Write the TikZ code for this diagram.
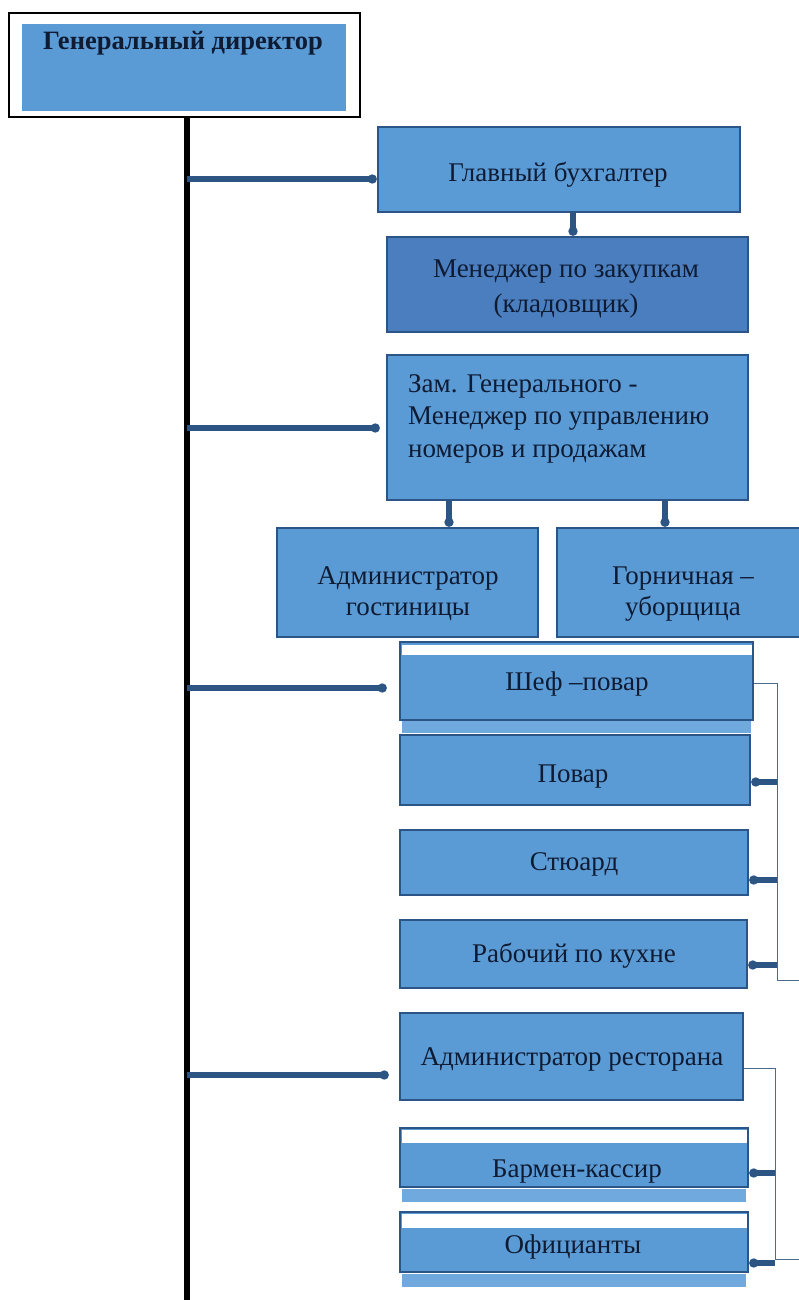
\documentclass[tikz,border=0pt]{standalone}
\usepackage{fontspec}
\setmainfont{Liberation Serif}
\usetikzlibrary{arrows.meta}
\definecolor{fillc}{HTML}{5B9BD5}
\definecolor{filld}{HTML}{4A7EBE}
\definecolor{lightc}{HTML}{6FA9DD}
\definecolor{bordc}{HTML}{2A5586}
\definecolor{connc}{HTML}{2D5584}
\definecolor{txtc}{HTML}{0E1B33}
\definecolor{thinc}{HTML}{4D6B88}
\begin{document}
\begin{tikzpicture}[x=1pt,y=-1pt,
  box/.style={draw=bordc,line width=2.5pt,fill=fillc,inner sep=0pt},
  lbl/.style={text=txtc,font=\fontsize{27}{32}\selectfont,align=center,inner sep=0pt,anchor=base},
  conn/.style={draw=connc,line width=6pt,-{Circle[length=9pt]}},
  thinln/.style={draw=thinc,line width=1pt}]
\clip (0,0) rectangle (799,1300);
\fill[white] (0,0) rectangle (799,1300);

% top box
\node[draw=black,line width=1.5pt,fill=white,minimum width=351pt,minimum height=104pt,inner sep=0pt] (gd) at (184.5,65) {};
\fill[fillc] (22,24) rectangle (346,111);
\node[lbl,font=\bfseries\fontsize{26.5}{30}\selectfont] (gdt) at (183,50) {Генеральный директор};

% vertical trunk
\coordinate (vb) at (187,1300);
\draw[black,line width=6.5pt] (gd.south -| vb) -- (vb);

% boxes
\node[box,minimum width=362pt,minimum height=85pt] (gb) at (559,169.5) {};
\node[lbl] (gbt) at (558,182) {Главный бухгалтер};

\node[box,fill=filld,minimum width=361pt,minimum height=95pt] (men) at (567.5,284.5) {};
\node[lbl] (ment1) at (566,277) {Менеджер по закупкам};
\node[lbl] (ment2) at (566,312) {(кладовщик)};

\node[box,minimum width=361pt,minimum height=145pt] (zam) at (567.5,427.5) {};
\node[lbl,anchor=base west] (zt1) at (408,392) {Зам. Генерального -};
\node[lbl,anchor=base west] (zt2) at (408,424) {Менеджер по управлению};
\node[lbl,anchor=base west] (zt3) at (408,457) {номеров и продажам};

\node[box,minimum width=261pt,minimum height=109pt] (adg) at (407.5,582.5) {};
\node[lbl] (adgt1) at (408,584) {Администратор};
\node[lbl] (adgt2) at (408,615) {гостиницы};

\node[box,minimum width=253pt,minimum height=109pt] (gor) at (683.5,582.5) {};
\node[lbl] (gort1) at (683,584) {Горничная –};
\node[lbl] (gort2) at (683,615) {уборщица};

% kitchen
\fill[lightc] (402,721) rectangle (751,733);
\node[box,minimum width=353pt,minimum height=78pt] (shef) at (576.5,681) {};
\fill[white] (402,644.5) rectangle (751.5,655);
\node[lbl] (sheft) at (577,690) {Шеф –повар};

\node[box,minimum width=350pt,minimum height=70pt] (pov) at (575,770) {};
\node[lbl] (povt) at (573,782) {Повар};

\node[box,minimum width=348pt,minimum height=65pt] (stw) at (574,862.5) {};
\node[lbl] (stwt) at (574,870) {Стюард};

\node[box,minimum width=347pt,minimum height=68pt] (rab) at (573.5,954) {};
\node[lbl] (rabt) at (574,962) {Рабочий по кухне};

% restaurant
\node[box,minimum width=343pt,minimum height=87pt] (adr) at (571.5,1056.5) {};
\node[lbl] (adrt) at (572,1065) {Администратор ресторана};

\fill[lightc] (402,1189) rectangle (746,1202);
\node[box,minimum width=348pt,minimum height=59pt] (bar) at (574,1157.5) {};
\fill[white] (401.5,1129.5) rectangle (746.5,1143);
\node[lbl] (bart) at (577,1177) {Бармен-кассир};

\fill[lightc] (402,1274) rectangle (746,1287);
\node[box,minimum width=348pt,minimum height=60pt] (ofi) at (574,1242) {};
\fill[white] (401.5,1213.5) rectangle (746.5,1228);
\node[lbl] (ofit) at (573,1253) {Официанты};

% trunk connectors
\coordinate (j1) at (187,179);
\coordinate (j2) at (187,428);
\coordinate (j3) at (187,688);
\coordinate (j4) at (187,1075);
\draw[conn] (j1) -- (j1 -| gb.west);
\draw[conn,shorten >=6pt] (j2) -- (j2 -| zam.west);
\draw[conn,shorten >=12pt] (j3) -- (j3 -| shef.west);
\draw[conn,shorten >=10pt] (j4) -- (j4 -| adr.west);

% vertical connectors
\coordinate (v1) at (573,0);
\coordinate (v2) at (449,0);
\coordinate (v3) at (665,0);
\draw[conn] (gb.south -| v1) -- (men.north -| v1);
\draw[conn] (zam.south -| v2) -- (adg.north -| v2);
\draw[conn] (zam.south -| v3) -- (gor.north -| v3);

% kitchen thin line and stubs
\coordinate (k0) at (777,683);
\coordinate (k1) at (777,980);
\coordinate (kend) at (799,980);
\draw[thinln] (k0 -| shef.east) -- (k0) -- (k1) -- (kend);
\coordinate (kp) at (777,782);
\coordinate (ks) at (777,880);
\coordinate (kr) at (777,965);
\draw[conn] (kp) -- (kp -| pov.east);
\draw[conn] (ks) -- (ks -| stw.east);
\draw[conn] (kr) -- (kr -| rab.east);

% restaurant thin line and stubs
\coordinate (r0) at (775,1068);
\coordinate (r1) at (775,1259);
\coordinate (rend) at (799,1259);
\draw[thinln] (r0 -| adr.east) -- (r0) -- (r1) -- (rend);
\coordinate (rb) at (775,1173);
\coordinate (ro) at (775,1263);
\draw[conn] (rb) -- (rb -| bar.east);
\draw[conn] (ro) -- (ro -| ofi.east);
\end{tikzpicture}
\end{document}
